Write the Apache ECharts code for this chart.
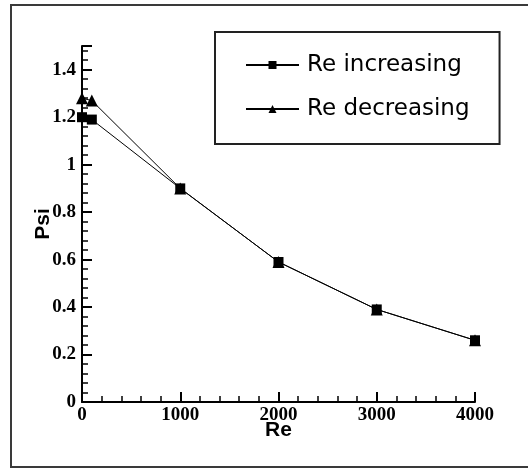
<!DOCTYPE html>
<html>
<head>
<meta charset="utf-8">
<script src="https://cdn.jsdelivr.net/npm/echarts@6/dist/echarts.min.js"></script>
<style>
  html, body { margin: 0; padding: 0; background: #fff; }
  #main { width: 528px; height: 468px; }
</style>
</head>
<body>
<div id="main"></div>
<script>
// data
var reValues   = [0, 100, 1000, 2000, 3000, 4000];
var psiIncr    = [1.20, 1.19, 0.90, 0.59, 0.39, 0.26];
var psiDecr    = [1.28, 1.27, 0.90, 0.59, 0.39, 0.26];
var seriesNames = ['Re increasing', 'Re decreasing'];

function pairs(xs, ys) {
  var out = [];
  for (var i = 0; i < xs.length; i++) out.push([xs[i], ys[i]]);
  return out;
}

var tickFont = { fontFamily: 'Liberation Serif', fontWeight: 'bold', fontSize: 19, color: '#000' };
var nameFont = { fontFamily: 'Liberation Sans', fontWeight: 'bold', fontSize: 21, color: '#000' };

var chart = echarts.init(document.getElementById('main'));
chart.setOption({
  animation: false,
  backgroundColor: '#fff',
  graphic: [{
    type: 'rect',
    shape: { x: 11, y: 5, width: 540, height: 462 },
    style: { fill: 'none', stroke: '#3a3a3a', lineWidth: 2 },
    z: 0
  }],
  grid: { left: 82, right: 53, top: 46, bottom: 66 },
  legend: {
    data: seriesNames,
    orient: 'vertical',
    left: 215,
    top: 32,
    padding: [21, 30, 23, 30],
    itemGap: 20,
    itemWidth: 53,
    itemHeight: 10,
    borderColor: '#222',
    borderWidth: 2,
    textStyle: { fontFamily: 'DejaVu Sans', fontSize: 23, color: '#000', lineHeight: 24, padding: [0, 0, 0, 3] }
  },
  xAxis: {
    type: 'value',
    min: 0, max: 4000, interval: 1000,
    name: 'Re',
    nameLocation: 'middle',
    nameGap: 18,
    nameMoveOverlap: false,
    nameTextStyle: nameFont,
    axisLine: { lineStyle: { color: '#000', width: 2 } },
    axisTick: { inside: true, length: 10, lineStyle: { color: '#000', width: 2 } },
    minorTick: { show: true, splitNumber: 5, length: 6, lineStyle: { color: '#000', width: 1.5 } },
    axisLabel: Object.assign({ margin: 4, formatter: function (v) { return String(v); } }, tickFont),
    splitLine: { show: false }
  },
  yAxis: {
    type: 'value',
    min: 0, max: 1.5, interval: 0.2,
    name: 'Psi',
    nameLocation: 'middle',
    nameRotate: 90,
    nameGap: 28,
    nameMoveOverlap: false,
    nameTextStyle: nameFont,
    axisLine: { lineStyle: { color: '#000', width: 2 } },
    axisTick: { inside: true, length: 10, lineStyle: { color: '#000', width: 2 } },
    minorTick: { show: true, splitNumber: 5, length: 6, lineStyle: { color: '#000', width: 1.5 } },
    axisLabel: Object.assign({ margin: 6, showMaxLabel: false }, tickFont),
    splitLine: { show: false }
  },
  series: [
    {
      name: seriesNames[1],
      type: 'line',
      data: pairs(reValues, psiDecr),
      symbol: 'triangle',
      symbolSize: 12,
      itemStyle: { color: '#000' },
      lineStyle: { color: '#000', width: 1 },
      z: 2
    },
    {
      name: seriesNames[0],
      type: 'line',
      data: pairs(reValues, psiIncr),
      symbol: 'rect',
      symbolSize: 10,
      itemStyle: { color: '#000' },
      lineStyle: { color: '#000', width: 1 },
      z: 3
    }
  ]
});
</script>
</body>
</html>
